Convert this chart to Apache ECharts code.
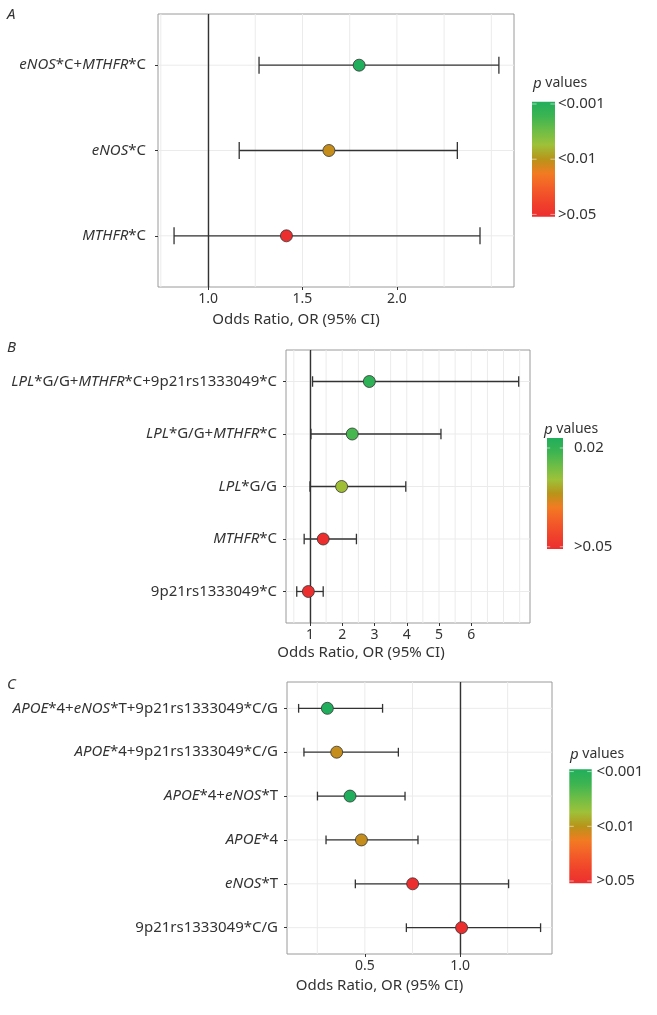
<!DOCTYPE html>
<html><head><meta charset="utf-8">
<script src="https://cdn.jsdelivr.net/npm/echarts@6/dist/echarts.min.js"></script>
<style>html,body{margin:0;padding:0;background:#fff}#c{width:657px;height:1015px}</style>
</head><body><div id="c"></div>
<script>
// ---------- DATA ----------
// Panel A
const catsA = ['eNOS*C+MTHFR*C', 'eNOS*C', 'MTHFR*C'];
const orA   = [1.80, 1.64, 1.415];
const lowA  = [1.27, 1.165, 0.82];
const upA   = [2.54, 2.32, 2.44];
const pA    = [0.0008, 0.011, 0.2];
const xTicksA = [1.0, 1.5, 2.0];
const xGridA  = [0.75, 1.0, 1.25, 1.5, 1.75, 2.0, 2.25, 2.5];
const pBreaksA = [0.001, 0.01, 0.05];
const pLabelsA = ['<0.001', '<0.01', '>0.05'];

// Panel B
const catsB = ['LPL*G/G+MTHFR*C+9p21rs1333049*C', 'LPL*G/G+MTHFR*C', 'LPL*G/G', 'MTHFR*C', '9p21rs1333049*C'];
const orB   = [2.84, 2.31, 1.98, 1.41, 0.95];
const lowB  = [1.08, 1.03, 1.0, 0.82, 0.59];
const upB   = [7.47, 5.06, 3.97, 2.44, 1.41];
const pB    = [0.019, 0.022, 0.03, 0.2, 0.8];
const xTicksB = [1, 2, 3, 4, 5, 6];
const xGridB  = [0.5, 1, 1.5, 2, 2.5, 3, 3.5, 4, 4.5, 5, 5.5, 6, 6.5, 7, 7.5];
const pBreaksB = [0.02, 0.05];
const pLabelsB = ['0.02', '>0.05'];

// Panel C
const catsC = ['APOE*4+eNOS*T+9p21rs1333049*C/G', 'APOE*4+9p21rs1333049*C/G', 'APOE*4+eNOS*T', 'APOE*4', 'eNOS*T', '9p21rs1333049*C/G'];
const orC   = [0.303, 0.352, 0.422, 0.482, 0.751, 1.008];
const lowC  = [0.152, 0.180, 0.251, 0.296, 0.450, 0.718];
const upC   = [0.593, 0.676, 0.711, 0.779, 1.255, 1.423];
const pC    = [0.0008, 0.011, 0.0008, 0.011, 0.2, 0.3];
const xTicksC = [0.5, 1.0];
const xGridC  = [0.25, 0.5, 0.75, 1.0, 1.25];
const pBreaksC = [0.001, 0.01, 0.05];
const pLabelsC = ['<0.001', '<0.01', '>0.05'];

const italicGenes = ['eNOS', 'MTHFR', 'LPL', 'APOE'];
const xTitle = 'Odds Ratio, OR (95% CI)';

// ---------- STYLE / LAYOUT ----------
const FONT = '"Noto Sans", "Open Sans", sans-serif';
const TXT = '#333';
const DARK = '#333';
// colour scale from bottom (p high, red) to top (p low, green)
const scaleColors = ['#ec2e2f', '#f0432b', '#f35d28', '#f27b22', '#b8941a', '#9ec139', '#6dbd46', '#3cb451', '#21ae5c'];

const panels = [
  { letter: 'A', cats: catsA, or: orA, low: lowA, up: upA, p: pA, xTicks: xTicksA, xGrid: xGridA,
    xRange: [0.735, 2.62], fmt: v => v.toFixed(1),
    breaks: pBreaksA, breakLabels: pLabelsA, breakPos: [0.98, 0.5, 0.02], log: true,
    grid: { left: 158, top: 14, width: 356, height: 273 }, ylabMargin: 12, nameGap: 25, namePad: 80,
    leg: { tx: 533, ty: 86, bx: 532, by: 101.7, bw: 23, bh: 115, lx: 558 }, lpos: [7, 15] },
  { letter: 'B', cats: catsB, or: orB, low: lowB, up: upB, p: pB, xTicks: xTicksB, xGrid: xGridB,
    xRange: [0.257, 7.82], fmt: v => String(v),
    breaks: pBreaksB, breakLabels: pLabelsB, breakPos: [0.91, 0.02], log: false,
    grid: { left: 286, top: 350, width: 244, height: 273 }, ylabMargin: 9, nameGap: 22, namePad: 94,
    leg: { tx: 544, ty: 432, bx: 547, by: 438, bw: 16, bh: 111, lx: 574 }, lpos: [7, 348] },
  { letter: 'C', cats: catsC, or: orC, low: lowC, up: upC, p: pC, xTicks: xTicksC, xGrid: xGridC,
    xRange: [0.091, 1.483], fmt: v => v.toFixed(1),
    breaks: pBreaksC, breakLabels: pLabelsC, breakPos: [0.98, 0.5, 0.02], log: true,
    grid: { left: 287, top: 682, width: 265, height: 272 }, ylabMargin: 9, nameGap: 24, namePad: 80,
    leg: { tx: 570, ty: 757, bx: 569.3, by: 769.3, bw: 22.4, bh: 114, lx: 596.5 }, lpos: [7, 685] }
];

function richLabel(s) {
  const re = new RegExp('(' + italicGenes.join('|') + ')', 'g');
  return s.split(re).filter(t => t).map(t => italicGenes.includes(t) ? '{i|' + t + '}' : '{n|' + t + '}').join('');
}
function pToPos(p, P) {
  const f = P.log ? Math.log10 : (v => v);
  const t = f(p), b = P.breaks.map(f), pos = P.breakPos;
  let i = 0;
  while (i < b.length - 2 && t > b[i + 1]) i++;
  const r = pos[i] + (t - b[i]) / (b[i + 1] - b[i]) * (pos[i + 1] - pos[i]);
  return Math.max(0, Math.min(1, r));
}

const grids = [], xAxes = [], yAxes = [], series = [], graphics = [];
const scatterIdx = [];
panels.forEach((P, k) => {
  const n = P.cats.length;
  const rows = P.cats.map((_, i) => i + 1);
  grids.push(Object.assign({ show: true, borderColor: '#9a9a9a', borderWidth: 1, backgroundColor: '#fff' }, P.grid));
  xAxes.push({
    type: 'value', gridIndex: k, min: P.xRange[0], max: P.xRange[1],
    axisLine: { show: false }, splitLine: { show: false },
    axisTick: { show: true, length: 3, lineStyle: { color: DARK }, customValues: P.xTicks },
    axisLabel: { customValues: P.xTicks, formatter: P.fmt, margin: 5, color: TXT, fontSize: 14, fontFamily: FONT },
    name: xTitle, nameLocation: 'middle', nameGap: P.nameGap,
    nameTextStyle: { color: TXT, fontSize: 15, fontFamily: FONT, padding: [0, P.namePad, 0, 0] }
  });
  yAxes.push({
    type: 'value', gridIndex: k, inverse: true, min: 0.4, max: n + 0.6,
    axisLine: { show: false }, splitLine: { show: false },
    axisTick: { show: true, length: 3, lineStyle: { color: DARK }, customValues: rows },
    axisLabel: {
      customValues: rows, margin: P.ylabMargin, color: TXT, fontSize: 15, fontFamily: FONT,
      formatter: v => richLabel(P.cats[Math.round(v) - 1] || ''),
      rich: {
        i: { fontStyle: 'italic', fontSize: 15, fontFamily: FONT, color: TXT },
        n: { fontSize: 15, fontFamily: FONT, color: TXT }
      }
    }
  });
  // grid lines (vertical)
  series.push({
    type: 'custom', xAxisIndex: k, yAxisIndex: k, z: 1, silent: true,
    data: P.xGrid.map(v => [v, 1]),
    renderItem: (params, api) => {
      const cs = params.coordSys;
      const x = api.coord([api.value(0), 1])[0];
      return { type: 'line', shape: { x1: x, y1: cs.y, x2: x, y2: cs.y + cs.height },
        style: { stroke: '#ebebeb', lineWidth: 1 } };
    }
  });
  // grid lines (horizontal, at rows)
  series.push({
    type: 'custom', xAxisIndex: k, yAxisIndex: k, z: 1, silent: true,
    data: rows.map(r => [P.xRange[0], r]),
    renderItem: (params, api) => {
      const cs = params.coordSys;
      const y = api.coord([api.value(0), api.value(1)])[1];
      return { type: 'line', shape: { x1: cs.x, y1: y, x2: cs.x + cs.width, y2: y },
        style: { stroke: '#ebebeb', lineWidth: 1 } };
    }
  });
  // error bars + reference line
  series.push({
    type: 'custom', xAxisIndex: k, yAxisIndex: k, z: 3, silent: true,
    data: rows.map((r, i) => [P.low[i], P.up[i], r]),
    encode: { x: [0, 1], y: 2 },
    renderItem: (params, api) => {
      const lo = api.value(0), hi = api.value(1), r = api.value(2);
      const a = api.coord([lo, r]), b = api.coord([hi, r]);
      const c1 = api.coord([lo, r - 0.1]), c2 = api.coord([lo, r + 0.1]);
      const d1 = api.coord([hi, r - 0.1]), d2 = api.coord([hi, r + 0.1]);
      const st = { stroke: DARK, lineWidth: 1.3 };
      return { type: 'group', children: [
        { type: 'line', shape: { x1: a[0], y1: a[1], x2: b[0], y2: b[1] }, style: st },
        { type: 'line', shape: { x1: c1[0], y1: c1[1], x2: c2[0], y2: c2[1] }, style: st },
        { type: 'line', shape: { x1: d1[0], y1: d1[1], x2: d2[0], y2: d2[1] }, style: st }
      ] };
    },
    markLine: {
      silent: true, symbol: 'none', label: { show: false },
      lineStyle: { color: DARK, width: 1.4, type: 'solid' },
      data: [{ xAxis: 1 }], animation: false
    }
  });
  // points
  scatterIdx.push(series.length);
  series.push({
    type: 'scatter', xAxisIndex: k, yAxisIndex: k, z: 5,
    symbolSize: 12,
    itemStyle: { borderColor: DARK, borderWidth: 0.8, opacity: 1 },
    data: rows.map((r, i) => [P.or[i], r, pToPos(P.p[i], P)])
  });

  // legend graphics
  const L = P.leg;
  graphics.push({
    type: 'text', left: L.tx, top: L.ty - 10,
    style: { text: '{i|p} values', fill: TXT, font: '14px ' + FONT,
      rich: { i: { fontStyle: 'italic', fontSize: 15, fontFamily: FONT, fill: TXT } } }
  });
  graphics.push({
    type: 'rect', shape: { x: L.bx, y: L.by, width: L.bw, height: L.bh },
    style: { fill: new echarts.graphic.LinearGradient(0, 1, 0, 0,
      scaleColors.map((c, i) => ({ offset: i / (scaleColors.length - 1), color: c }))) }
  });
  P.breaks.forEach((b, j) => {
    const y = L.by + (1 - P.breakPos[j]) * L.bh;
    const tw = L.bw / 5;
    graphics.push({ type: 'line', shape: { x1: L.bx, y1: y, x2: L.bx + tw, y2: y }, style: { stroke: '#fff', lineWidth: 0.8, opacity: 0.7 } });
    graphics.push({ type: 'line', shape: { x1: L.bx + L.bw - tw, y1: y, x2: L.bx + L.bw, y2: y }, style: { stroke: '#fff', lineWidth: 0.8, opacity: 0.7 } });
    graphics.push({
      type: 'text', x: L.lx, y: y,
      style: { text: P.breakLabels[j], fill: TXT, font: '15px ' + FONT, textVerticalAlign: 'middle', verticalAlign: 'middle' }
    });
  });
  graphics.push({
    type: 'text', x: P.lpos[0], y: P.lpos[1],
    style: { text: P.letter, fill: TXT, font: 'italic 15px ' + FONT, verticalAlign: 'middle' }
  });
});

const chart = echarts.init(document.getElementById('c'), null, { renderer: 'canvas' });
chart.setOption({
  animation: false,
  backgroundColor: '#fff',
  grid: grids, xAxis: xAxes, yAxis: yAxes, series: series,
  visualMap: [{
    type: 'continuous', show: false, seriesIndex: scatterIdx, dimension: 2,
    min: 0, max: 1, inRange: { color: scaleColors }
  }],
  graphic: graphics
});
</script></body></html>
